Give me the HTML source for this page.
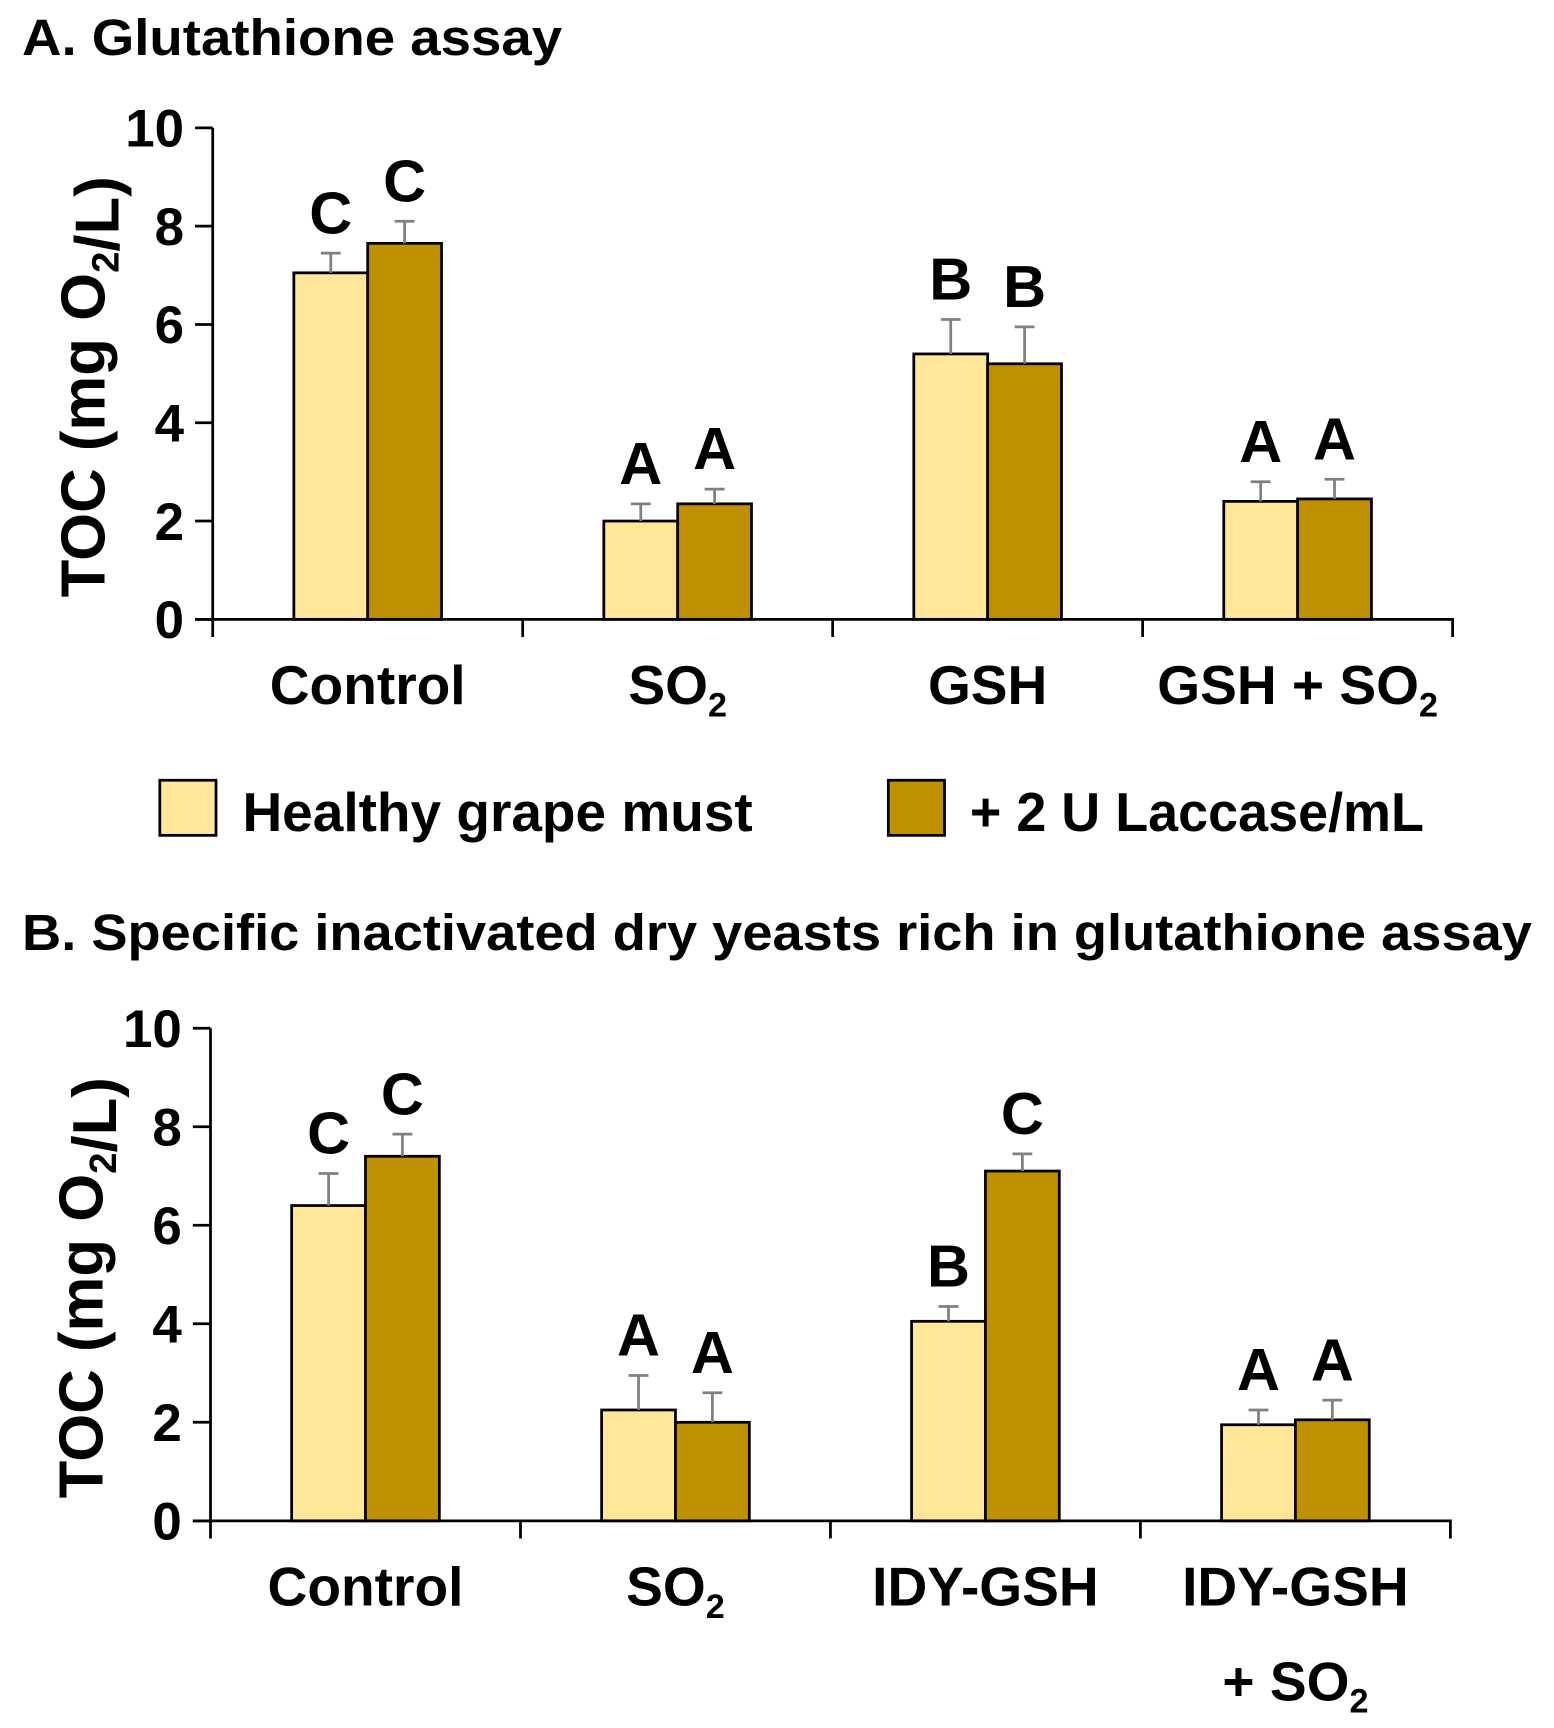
<!DOCTYPE html>
<html><head><meta charset="utf-8"><style>
html,body{margin:0;padding:0;background:#fff;}
svg{display:block;}
text{font-family:"Liberation Sans",sans-serif;font-weight:bold;fill:#000;}
</style></head>
<body>
<svg id="chart" width="1554" height="1728" viewBox="0 0 1410 1568" preserveAspectRatio="none" xmlns="http://www.w3.org/2000/svg"></svg>
<script>
const unitsPerTick = [0, 2, 4, 6, 8, 10];
const tickLabels = ["0", "2", "4", "6", "8", "10"];
const catsA = ["Control", "SO2", "GSH", "GSH + SO2"];
const lightA = [7.05, 2.0, 5.4, 2.4];
const darkA = [7.65, 2.35, 5.2, 2.45];
const lightErrA = [0.4, 0.35, 0.7, 0.4];
const darkErrA = [0.45, 0.3, 0.75, 0.4];
const lightLetA = ["C", "A", "B", "A"];
const darkLetA = ["C", "A", "B", "A"];
const catsB = ["Control", "SO2", "IDY-GSH", "IDY-GSH\n+ SO2"];
const lightB = [6.4, 2.25, 4.05, 1.95];
const darkB = [7.4, 2.0, 7.1, 2.05];
const lightErrB = [0.65, 0.7, 0.3, 0.3];
const darkErrB = [0.45, 0.6, 0.35, 0.4];
const lightLetB = ["C", "A", "B", "A"];
const darkLetB = ["C", "A", "C", "A"];

const NS = "http://www.w3.org/2000/svg";
const svg = document.getElementById("chart");
function mk(tag, attrs, parent) {
  const e = document.createElementNS(NS, tag);
  for (const k in attrs) e.setAttribute(k, attrs[k]);
  (parent || svg).appendChild(e);
  return e;
}
function addLabel(parent, x, y, str, size, anchor) {
  const t = mk("text", {x: x, y: y, "font-size": size, "text-anchor": anchor || "middle"}, parent);
  const parts = str.split("O2");
  parts.forEach((p, i) => {
    const s1 = document.createElementNS(NS, "tspan"); s1.textContent = p + (i < parts.length - 1 ? "O" : ""); t.appendChild(s1);
    if (i < parts.length - 1) {
      const s2 = document.createElementNS(NS, "tspan");
      s2.setAttribute("font-size", size * 0.62); s2.setAttribute("dy", size * 0.22);
      s2.textContent = "2"; t.appendChild(s2);
      if (i + 1 < parts.length && parts[i + 1].length) {
        const s3 = document.createElementNS(NS, "tspan"); s3.setAttribute("dy", -size * 0.22); s3.textContent = ""; t.appendChild(s3);
      }
    }
  });
  return t;
}

function panel(cfg) {
  const g = mk("g", {});
  
  
  const y = v => cfg.y0 - v * (cfg.y0 - cfg.y10) / 10;
  const gw = (cfg.xR - cfg.x0) / cfg.cats.length;
  const bw = 67;
  cfg.cats.forEach((c, i) => {
    const cx = cfg.x0 + gw * (i + 0.5);
    [[cfg.light, cfg.lerr, cfg.llet, "#FFE699", -1, "light"], [cfg.dark, cfg.derr, cfg.dlet, "#BF9000", 0, "dark"]].forEach(s => {
      const v = s[0][i], bx = cx + s[4] * bw;
      const r = mk("rect", {x: bx, y: y(v), width: bw, height: cfg.y0 - y(v), fill: s[3], stroke: "#000", "stroke-width": 2.5}, g);
      
      
      const ex = bx + bw / 2, et = y(v + s[1][i]);
      const eb = mk("path", {d: `M${ex},${y(v)}V${et}M${ex - 9},${et}H${ex + 9}`, stroke: "#808080", "stroke-width": 2.5, fill: "none"}, g);
      
      
      const lt = mk("text", {x: ex, y: et - 18, "font-size": 54, "text-anchor": "middle"}, g);
      lt.textContent = s[2][i];
      
      
    });
    const lines = c.split("\n");
    lines.forEach((ln, k) => {
      const t = addLabel(g, cx, cfg.y0 + 77 + k * 86, ln, 50);
      
      
    });
  });
  const ax = mk("path", {d: `M${cfg.x0},${cfg.y10}V${cfg.y0 + 16}M${cfg.x0 - 16},${cfg.y0}H${cfg.xR}V${cfg.y0 + 16}`, stroke: "#000", "stroke-width": 2.5, fill: "none"}, g);
  
  
  for (let i = 1; i < cfg.cats.length; i++) {
    const tx = cfg.x0 + gw * i;
    mk("path", {d: `M${tx},${cfg.y0}V${cfg.y0 + 16}`, stroke: "#000", "stroke-width": 2.5}, g);
  }
  unitsPerTick.forEach((v, i) => {
    mk("path", {d: `M${cfg.x0 - 16},${y(v)}H${cfg.x0}`, stroke: "#000", "stroke-width": 2.5}, g);
    const t = mk("text", {x: cfg.x0 - 26, y: y(v) + 17, "font-size": 48, "text-anchor": "end"}, g);
    t.textContent = tickLabels[i];
    
    
  });
  const yt = addLabel(g, 0, 0, "TOC (mg O2/L)", 56);
  yt.setAttribute("transform", `translate(${cfg.x0 - 98},${(cfg.y0 + cfg.y10) / 2 + 12}) rotate(-90)`);
  
  
}

const tA = mk("text", {x: 20, y: 50, "font-size": 46, textLength: 490, lengthAdjust: "spacingAndGlyphs"});
tA.textContent = "A. Glutathione assay";


const tB = mk("text", {x: 20, y: 862, "font-size": 46, textLength: 1370, lengthAdjust: "spacingAndGlyphs"});
tB.textContent = "B. Specific inactivated dry yeasts rich in glutathione assay";



panel({name: "panel-a-chart", x0: 193, xR: 1318, y0: 562, y10: 116, cats: catsA, light: lightA, dark: darkA, lerr: lightErrA, derr: darkErrA, llet: lightLetA, dlet: darkLetA});
panel({name: "panel-b-chart", x0: 191, xR: 1316, y0: 1380, y10: 933, cats: catsB, light: lightB, dark: darkB, lerr: lightErrB, derr: darkErrB, llet: lightLetB, dlet: darkLetB});

const lg = mk("g", {});


[[145, "#FFE699", 220, "Healthy grape must", 463], [806, "#BF9000", 880, "+ 2 U Laccase/mL", 412]].forEach((L, i) => {
  const r = mk("rect", {x: L[0], y: 708, width: 51, height: 50, fill: L[1], stroke: "#000", "stroke-width": 2.5}, lg);
  
  
  const t = mk("text", {x: L[2], y: 754, "font-size": 50, textLength: L[4], lengthAdjust: "spacingAndGlyphs"}, lg);
  t.textContent = L[3];
  
  
});
</script>
</body></html>
